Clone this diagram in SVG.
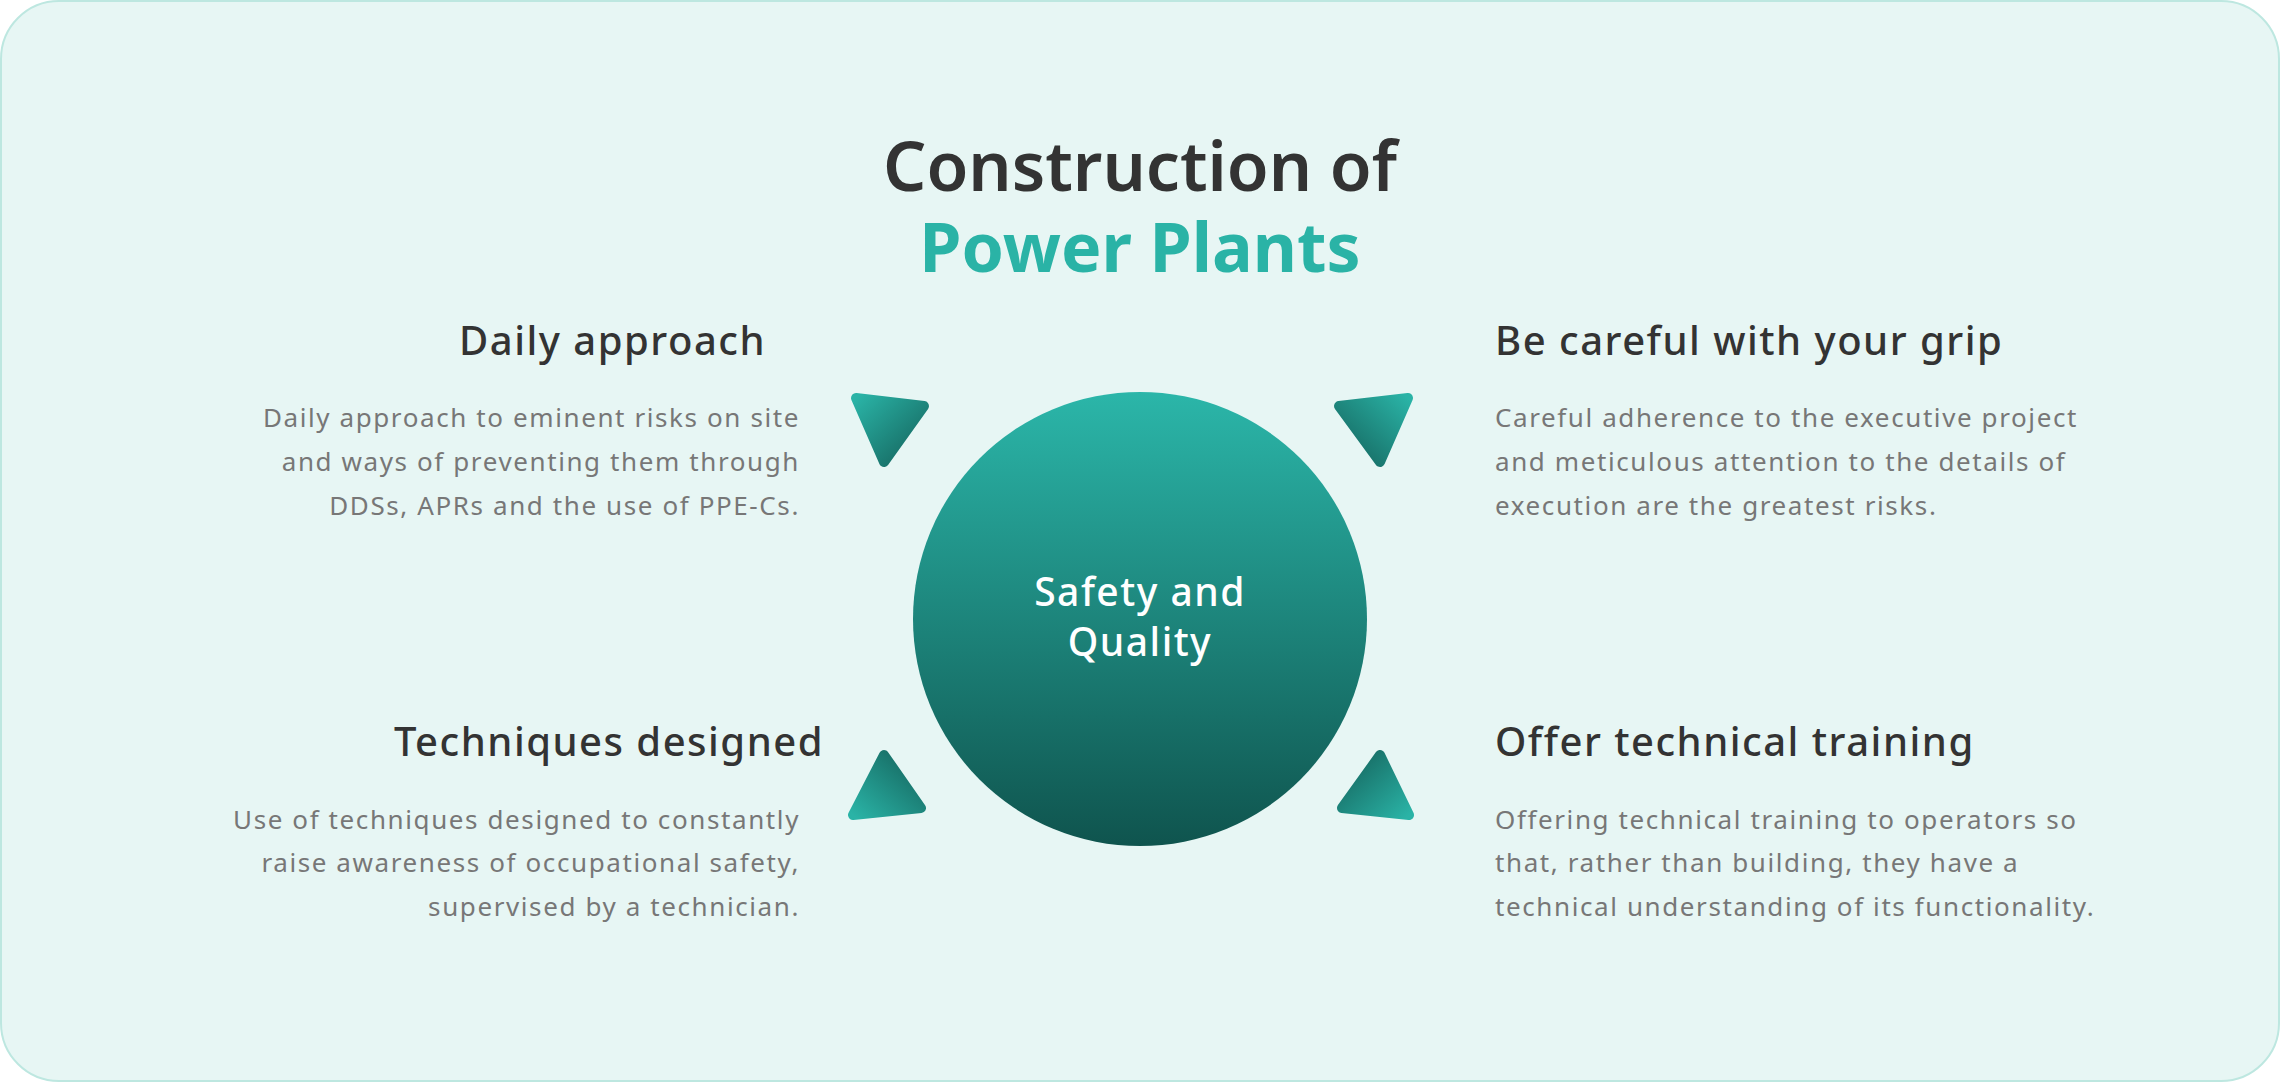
<svg xmlns="http://www.w3.org/2000/svg" width="2280" height="1082" viewBox="0 0 2280 1082">
<defs>
<linearGradient id="gc" x1="0" y1="0" x2="0" y2="1"><stop offset="0" stop-color="#2bb6a9"/><stop offset="1" stop-color="#0f544e"/></linearGradient>
<linearGradient id="g1" x1="0" y1="0" x2="1" y2="1"><stop offset="0" stop-color="#2ab3a6"/><stop offset="1" stop-color="#14625b"/></linearGradient>
<linearGradient id="g2" x1="1" y1="0" x2="0" y2="1"><stop offset="0" stop-color="#2ab3a6"/><stop offset="1" stop-color="#14625b"/></linearGradient>
<linearGradient id="g3" x1="0" y1="1" x2="1" y2="0"><stop offset="0" stop-color="#2ab3a6"/><stop offset="1" stop-color="#14625b"/></linearGradient>
<linearGradient id="g4" x1="1" y1="1" x2="0" y2="0"><stop offset="0" stop-color="#2ab3a6"/><stop offset="1" stop-color="#14625b"/></linearGradient>
</defs>
<style>
text{font-family:"Noto Sans","Lato",sans-serif}
.t{font-size:68px;font-weight:600;fill:#333;text-anchor:middle}
.h{font-size:40px;font-weight:500;fill:#333;letter-spacing:1.5px}
.b{font-size:26px;fill:#777;letter-spacing:1.6px}
.r{text-anchor:end}
.c{font-size:39px;fill:#fff;text-anchor:middle;font-weight:500;letter-spacing:1.5px}
.tri{stroke-linejoin:round;stroke-width:10}
</style>
<rect x="1" y="1" width="2278" height="1080" rx="58" fill="#e7f6f4" stroke="#bde7e0" stroke-width="2"/>
<g id="title">
<text class="t" x="1140" y="191">Construction of</text>
<text class="t" x="1140" y="272" style="fill:#2ab3a6;font-weight:700">Power Plants</text>
</g>
<g id="center">
<circle cx="1140" cy="619" r="227" fill="url(#gc)"/>
<text class="c" x="1140" y="606">Safety and</text>
<text class="c" x="1140" y="656">Quality</text>
</g>
<g id="connectors">
<polygon class="tri" points="856,398 924,406 884,462" fill="url(#g1)" stroke="url(#g1)"/>
<polygon class="tri" points="1339,406 1408,398 1380,462" fill="url(#g2)" stroke="url(#g2)"/>
<polygon class="tri" points="884,755 921,808 853,815" fill="url(#g3)" stroke="url(#g3)"/>
<polygon class="tri" points="1380,755 1409,815 1342,808" fill="url(#g4)" stroke="url(#g4)"/>
</g>
<g id="daily">
<text class="h r" x="766" y="355">Daily approach</text>
<text class="b r" x="800" y="427">Daily approach to eminent risks on site</text>
<text class="b r" x="800" y="471">and ways of preventing them through</text>
<text class="b r" x="800" y="515">DDSs, APRs and the use of PPE-Cs.</text>
</g>
<g id="grip">
<text class="h" x="1495" y="355">Be careful with your grip</text>
<text class="b" x="1495" y="427">Careful adherence to the executive project</text>
<text class="b" x="1495" y="471">and meticulous attention to the details of</text>
<text class="b" x="1495" y="515">execution are the greatest risks.</text>
</g>
<g id="techniques">
<text class="h r" x="824" y="756">Techniques designed</text>
<text class="b r" x="800" y="829">Use of techniques designed to constantly</text>
<text class="b r" x="800" y="872">raise awareness of occupational safety,</text>
<text class="b r" x="800" y="916">supervised by a technician.</text>
</g>
<g id="training">
<text class="h" x="1495" y="756">Offer technical training</text>
<text class="b" x="1495" y="829">Offering technical training to operators so</text>
<text class="b" x="1495" y="872">that, rather than building, they have a</text>
<text class="b" x="1495" y="916">technical understanding of its functionality.</text>
</g>
</svg>
